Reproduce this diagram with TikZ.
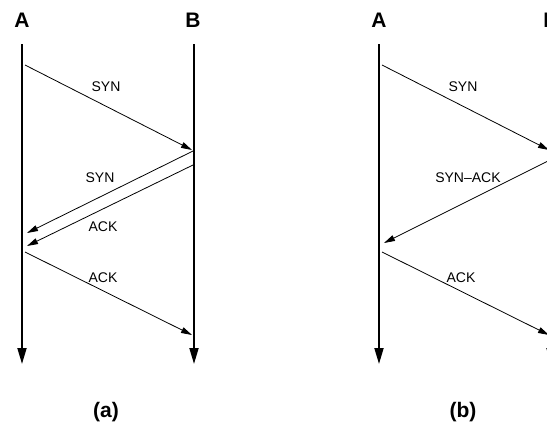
\documentclass[tikz,border=0pt]{standalone}
\usepackage{fontspec}
\setmainfont{Liberation Sans}
\usetikzlibrary{arrows.meta}
\begin{document}
\begin{tikzpicture}[x=1pt,y=-1pt,
  timeline/.style={line width=1.8pt, -{Triangle[length=16pt,width=9pt]}},
  msg/.style={line width=0.8pt, -{Triangle[length=11pt,width=6pt]}},
  lbl/.style={font=\fontsize{14}{14}\selectfont, inner sep=0pt},
  party/.style={font=\bfseries\fontsize{21}{21}\selectfont, inner sep=0pt},
  caption/.style={font=\bfseries\fontsize{21}{21}\selectfont, inner sep=0pt}]
\useasboundingbox (0,0) rectangle (547,429);
% ---------- (a)
\node[party] (PA) at (22,20) {A};
\node[party] (PB) at (193,20) {B};
\coordinate (Atop) at (22,44);
\coordinate (Abot) at (22,364);
\coordinate (Btop) at (194,44);
\coordinate (Bbot) at (194,364);
\draw[timeline] (Atop) -- (Abot);
\draw[timeline] (Btop) -- (Bbot);
\coordinate (a1s) at (25,65);
\coordinate (a1e) at (192,150);
\coordinate (a2s) at (193,151);
\coordinate (a2e) at (27,233);
\coordinate (a3s) at (193,165);
\coordinate (a3e) at (27,246);
\coordinate (a4s) at (25,252);
\coordinate (a4e) at (192,335);
\draw[msg] (a1s) -- (a1e);
\draw[msg] (a2s) -- (a2e);
\draw[msg] (a3s) -- (a3e);
\draw[msg] (a4s) -- (a4e);
\node[lbl] (l1) at (106,87) {SYN};
\node[lbl] (l2) at (100,178) {SYN};
\node[lbl] (l3) at (103,227) {ACK};
\node[lbl] (l4) at (103,278) {ACK};
\node[caption] (ca) at (106,412) {(a)};
% ---------- (b)
\node[party] (QA) at (379,20) {A};
\node[party] (QB) at (551,20) {B};
\coordinate (A2top) at (379,44);
\coordinate (A2bot) at (379,364);
\coordinate (B2top) at (551,44);
\coordinate (B2bot) at (551,364);
\draw[timeline] (A2top) -- (A2bot);
\draw[timeline] (B2top) -- (B2bot);
\coordinate (b1s) at (382,65);
\coordinate (b1e) at (549,150);
\coordinate (b2s) at (550,160);
\coordinate (b2e) at (384,243);
\coordinate (b3s) at (382,252);
\coordinate (b3e) at (549,335);
\draw[msg] (b1s) -- (b1e);
\draw[msg] (b2s) -- (b2e);
\draw[msg] (b3s) -- (b3e);
\node[lbl] (m1) at (463,87) {SYN};
\node[lbl] (m2) at (468,178) {SYN--ACK};
\node[lbl] (m3) at (461,278) {ACK};
\node[caption] (cb) at (463,412) {(b)};
\end{tikzpicture}
\end{document}
